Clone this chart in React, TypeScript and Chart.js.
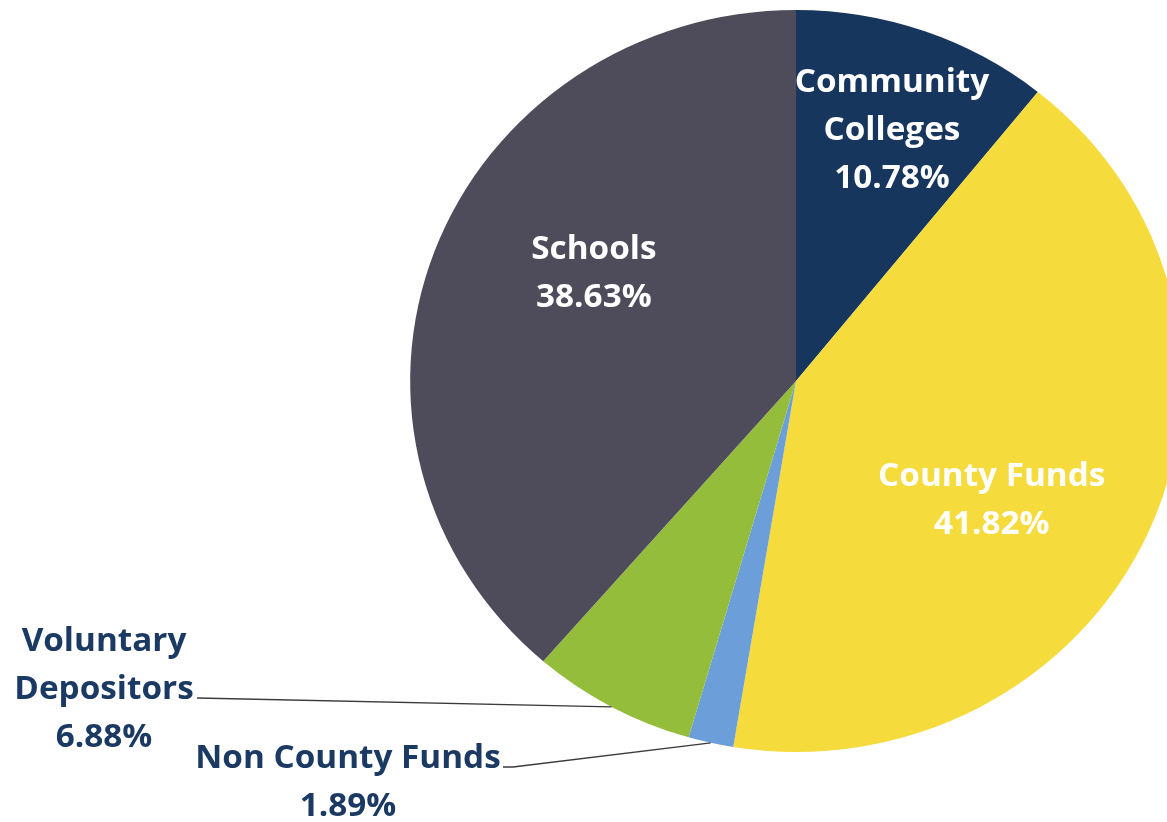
import React, { useEffect, useRef } from "react";
import { Chart, registerables } from "chart.js";

Chart.register(...registerables);

const categories = ["Community Colleges", "County Funds", "Non County Funds", "Voluntary Depositors", "Schools"];
const values = [10.78, 41.82, 1.89, 6.88, 38.63];
const labelLines = [["Community", "Colleges"], ["County Funds"], ["Non County Funds"], ["Voluntary", "Depositors"], ["Schools"]];
const colors = ["#17365e", "#f5db3c", "#6c9fd9", "#95bd3c", "#4e4c5a"];

const W = 1167;
const H = 822;
const SX = 1.04; // horizontal stretch of the original picture
const FONT = "bold 32px 'Open Sans', sans-serif";
const LINE_H = 48;

// inside label placement: radius fraction and angle offset (deg) from slice middle
const inside: Record<number, { f: number; off: number }> = {
  0: { f: 0.72, off: 0.8 },
  1: { f: 0.6, off: 8.2 },
  4: { f: 0.6, off: 8.7 },
};
// outside labels: text centre (screen), leader line path end points (screen)
const outside: Record<number, { x: number; y: number; path: [number, number][] }> = {
  3: { x: 104, y: 690, path: [[197, 698]] },
  2: { x: 348, y: 783, path: [[513, 767], [503, 767]] },
};

export default function App() {
  const ref = useRef<HTMLCanvasElement | null>(null);
  useEffect(() => {
    if (!ref.current) return;
    const stretch = {
      id: "stretchAndLabels",
      beforeDatasetsDraw(chart: any) {
        const { ctx, chartArea } = chart;
        const cx = (chartArea.left + chartArea.right) / 2;
        ctx.save();
        ctx.translate(cx, 0);
        ctx.scale(SX, 1);
        ctx.translate(-cx, 0);
      },
      afterDatasetsDraw(chart: any) {
        const { ctx, chartArea } = chart;
        const cx = (chartArea.left + chartArea.right) / 2;
        const toC = (xs: number) => cx + (xs - cx) / SX;
        const meta = chart.getDatasetMeta(0);
        ctx.font = FONT;
        ctx.textAlign = "center";
        ctx.textBaseline = "middle";
        meta.data.forEach((arc: any, i: number) => {
          const { x, y, startAngle, endAngle, outerRadius } = arc.getProps(["x", "y", "startAngle", "endAngle", "outerRadius"], true);
          const mid = (startAngle + endAngle) / 2;
          const lines = [...labelLines[i], values[i].toFixed(2) + "%"];
          if (inside[i]) {
            const a = mid + (inside[i].off * Math.PI) / 180;
            const px = x + Math.cos(a) * outerRadius * inside[i].f;
            const py = y + Math.sin(a) * outerRadius * inside[i].f + 1;
            ctx.fillStyle = "#ffffff";
            lines.forEach((t, k) => {
              ctx.fillText(t, px, py + (k - (lines.length - 1) / 2) * LINE_H);
            });
          } else if (outside[i]) {
            const o = outside[i];
            const ex = x + Math.cos(mid) * outerRadius;
            const ey = y + Math.sin(mid) * outerRadius;
            ctx.save();
            ctx.strokeStyle = "#3a3a3a";
            ctx.lineWidth = 1.4;
            ctx.beginPath();
            ctx.moveTo(ex, ey);
            o.path.forEach(([sx, sy]) => ctx.lineTo(toC(sx), sy));
            ctx.stroke();
            ctx.restore();
            ctx.fillStyle = "#1b3a63";
            lines.forEach((t, k) => {
              ctx.fillText(t, toC(o.x), o.y + (k - (lines.length - 1) / 2) * LINE_H);
            });
          }
        });
        ctx.restore();
      },
    };
    const chart = new Chart(ref.current, {
      type: "pie",
      data: {
        labels: categories,
        datasets: [
          {
            data: values,
            backgroundColor: colors,
            borderWidth: 0,
            clip: false,
          } as any,
        ],
      },
      options: {
        responsive: false,
        maintainAspectRatio: false,
        animation: false,
        layout: { padding: { left: 425, right: 0, top: 10, bottom: 70 } },
        plugins: { legend: { display: false }, tooltip: { enabled: false } },
      },
      plugins: [stretch],
    });
    return () => chart.destroy();
  }, []);
  return (
    <div style={{ position: "fixed", left: 0, top: 0, width: W, height: H, overflow: "hidden", background: "#fff" }}>
      <canvas ref={ref} width={W} height={H} style={{ display: "block" }} />
    </div>
  );
}
